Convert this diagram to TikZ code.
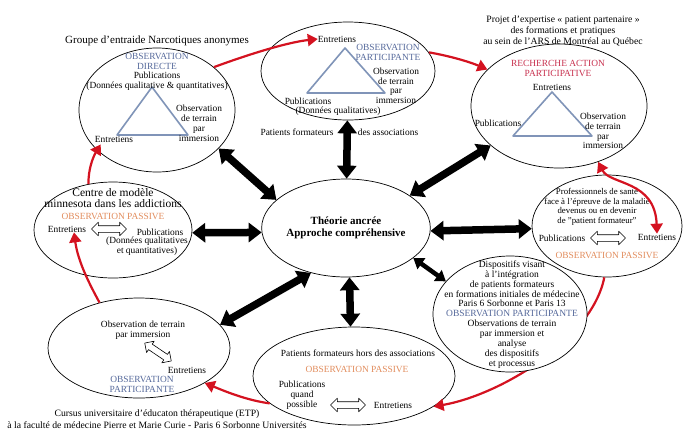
\documentclass[tikz,border=0pt]{standalone}
\usepackage{fontspec}
\setmainfont{Liberation Serif}
\usetikzlibrary{arrows.meta,shapes.geometric,shapes.arrows}
\definecolor{obsblue}{RGB}{85,105,155}
\definecolor{obsorange}{RGB}{226,140,92}
\definecolor{obsred}{RGB}{200,48,78}
\definecolor{cyclered}{RGB}{212,18,32}
\definecolor{trigray}{RGB}{128,148,184}
\begin{document}
\begin{tikzpicture}[x=1pt, y=-1pt, line join=round, >={Triangle[length=10pt,width=12pt]},
	txt/.style={font=\fontsize{9.4}{10}\selectfont, align=center, inner sep=0pt},
	legende/.style={font=\fontsize{9.7}{11}\selectfont, align=center, inner sep=0pt},
	bulle/.style={ellipse, draw, fill=white, line width=0.7pt, inner sep=0pt},
	bigarr/.style={line width=7.5pt, arrows={Triangle[length=13pt,width=19pt]-Triangle[length=13pt,width=19pt]}},
	thinarr/.style={line width=4.5pt, arrows={Triangle[length=10pt,width=13pt]-Triangle[length=10pt,width=13pt]}},
	cyc/.style={draw=cyclered, line width=2.2pt},
	tri/.style={draw=trigray, line width=1.6pt},
	vide/.style={double arrow, draw, fill=white, line width=0.6pt, minimum height=35pt, minimum width=0pt, inner sep=3pt, double arrow head extend=3.5pt}]
	\useasboundingbox (0,0) rectangle (695,432);
	\node[bulle, minimum width=156pt, minimum height=124pt] (NA) at (157,110) {};
	\node[bulle, minimum width=174pt, minimum height=98pt] (T) at (348,71) {};
	\node[bulle, minimum width=176pt, minimum height=124pt] (TR) at (559,106) {};
	\node[bulle, minimum width=158pt, minimum height=96pt] (LM) at (113,230) {};
	\node[bulle, minimum width=150pt, minimum height=102pt] (RM) at (607,226) {};
	\node[bulle, minimum width=202pt, minimum height=98pt] (BC) at (354,376) {};
	\node[bulle, minimum width=182pt, minimum height=100pt] (BL) at (139,348) {};
	\node[bulle, minimum width=142pt, minimum height=98pt, align=center, font=\bfseries\fontsize{11}{12}\selectfont] (C) at (346,228) {Théorie ancrée\\Approche compréhensive};
	\draw[cyc, ->] (RM.-93) .. controls (592,340) and (500,395) .. (BC.-21);
	\node[bulle, minimum width=154pt, minimum height=116pt] (D) at (510,314) {};

	\node[txt, font=\fontsize{11}{13}\selectfont] (naCap) at (157,41) {Groupe d'entraide Narcotiques anonymes};
	\draw[tri] (152,87) -- (117,135) -- (188,135) -- cycle;
	\node[txt, text=obsblue] (naObs) at (157,61) {OBSERVATION\\DIRECTE};
	\node[txt] (naPub) at (157,81) {Publications\\(Données qualitative \& quantitatives)};
	\node[txt] (naTer) at (199,123) {Observation\\de terrain\\par\\immersion};
	\node[txt] (naEnt) at (114,139) {Entretiens};

	\draw[tri] (345,48) -- (307,93) -- (385,93) -- cycle;
	\node[txt] (tEnt) at (337,39) {Entretiens};
	\node[txt, text=obsblue] (tObs) at (388,52) {OBSERVATION\\PARTICIPANTE};
	\node[txt, font=\fontsize{9.4}{9.5}\selectfont] (tTer) at (396,86) {Observation\\de terrain\\par\\immersion};
	\node[txt] (tPub) at (308,101) {Publications};
	\node[txt] (tDon) at (338,111) {(Données qualitatives)};
	\node[txt] (tAssoL) at (297,132) {Patients formateurs};
	\node[txt] (tAssoR) at (388,132) {des associations};

	\node[legende] (trCap) at (563,31) {Projet d'expertise « patient partenaire »\\des formations et pratiques\\au sein de l'ARS de Montréal au Québec};
	\draw[tri] (552,92) -- (513,136) -- (592,136) -- cycle;
	\node[txt, text=obsred] (trObs) at (558,68) {RECHERCHE ACTION\\PARTICIPATIVE};
	\node[txt] (trEnt) at (552,87) {Entretiens};
	\node[txt] (trPub) at (498,123) {Publications};
	\node[txt, font=\fontsize{9.4}{9.7}\selectfont] (trTer) at (603,131) {Observation\\de terrain\\par\\immersion};

	\node[txt, font=\fontsize{11.5}{11.5}\selectfont] (lmTitle) at (113,198) {Centre de modèle\\minnesota dans les addictions};
	\node[txt, text=obsorange] (lmObs) at (113,216) {OBSERVATION PASSIVE};
	\node[txt] (lEnt) at (67,229) {Entretiens};
	\node[vide] (lArr) at (109,229) {};
	\node[txt] (lmPub) at (160,232) {Publications};
	\node[txt] (lmDon) at (147,246.5) {(Données qualitatives\\et quantitatives)};

	\node[txt, font=\fontsize{8.8}{9.5}\selectfont] (rmTitle) at (597,207) {Professionnels de santé\\face à l'épreuve de la maladie\\devenus ou en devenir\\de "patient formateur"};
	\node[txt] (rPub) at (562,238) {Publications};
	\node[vide] (rArr) at (608,238) {};
	\node[txt] (rEnt) at (657,237) {Entretiens};
	\node[txt, text=obsorange] (rmObs) at (607,255) {OBSERVATION PASSIVE};

	\node[txt, font=\fontsize{9.5}{9.9}\selectfont] (dText) at (512,314.5) {Dispositifs visant\\à l'intégration\\de patients formateurs\\en formations initiales de médecine\\Paris 6 Sorbonne et Paris 13\\{\color{obsblue}OBSERVATION PARTICIPANTE}\\Observations de terrain\\par immersion et\\analyse\\des dispositifs\\et processus};

	\node[txt] (bcTitle) at (358,353) {Patients formateurs hors des associations};
	\node[txt, text=obsorange] (bcObs) at (357,369) {OBSERVATION PASSIVE};
	\node[txt] (bcPub) at (302,395) {Publications\\quand\\possible};
	\node[vide] (bcArr) at (348,405) {};
	\node[txt] (bcEnt) at (393,405) {Entretiens};

	\node[txt] (blTer) at (143,330) {Observation de terrain\\par immersion};
	\node[vide, minimum height=32pt, rotate=-34] (blArr) at (158,352) {};
	\node[txt] (blEnt) at (187,370) {Entretiens};
	\node[txt, text=obsblue] (blObs) at (142,384) {OBSERVATION\\PARTICIPANTE};
	\node[legende, font=\fontsize{9.7}{12.5}\selectfont] (blCap) at (157,419) {Cursus universitaire d'éducaton thérapeutique (ETP)\\à la faculté de médecine Pierre et Marie Curie - Paris 6 Sorbonne Universités};

	\foreach \s/\e in {C.158/NA.-32, C/T, C.27/TR.210, C.183/LM.-2, C.-2/RM.182, C.232/BL.16, C.-86/BC.94}
		\draw[bigarr] (\s) -- (\e);
	\draw[thinarr] (C.-24) -- (D.153);

	\draw[cyc, ->] (NA.37) .. controls (255,52) and (290,42) .. (tEnt.west);
	\draw[cyc, ->] (T.13) .. controls (450,56) and (470,62) .. (TR.153);
	\draw[cyc, <->] (TR.-55) .. controls (610,185) and (655,180) .. (rEnt.north);
	\draw[cyc, ->] (BC.198) .. controls (245,400) and (222,390) .. (BL.-28);
	\draw[cyc, ->] (BL.131) .. controls (90,285) and (78,262) .. ([xshift=7pt]lEnt.south);
	\draw[cyc, ->] (LM.118) .. controls (88,170) and (93,157) .. ([xshift=6pt,yshift=-2pt]naEnt.south west);
\end{tikzpicture}
\end{document}
